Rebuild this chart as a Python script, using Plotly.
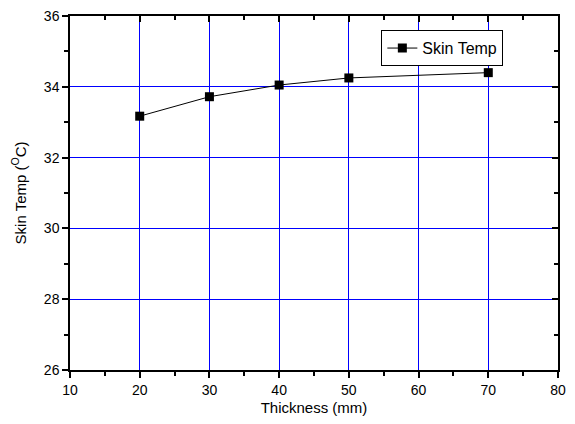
import plotly.graph_objects as go

thickness = [20, 30, 40, 50, 70]
skin_temp = [33.17, 33.72, 34.05, 34.25, 34.40]
series_name = "Skin Temp"

fig = go.Figure()
fig.add_trace(go.Scatter(
    x=thickness, y=skin_temp, name=series_name, mode="lines+markers",
    line=dict(color="black", width=1),
    marker=dict(symbol="square", size=9, color="black"),
))
# invisible trace for mirrored axes
fig.add_trace(go.Scatter(x=[10, 80], y=[26, 36], xaxis="x2", yaxis="y2",
                         mode="markers", marker=dict(opacity=0), showlegend=False,
                         hoverinfo="skip"))

fam = "Liberation Sans, Arial, sans-serif"
grid = "#0000ff"
fig.update_layout(
    template="none",
    width=575, height=424,
    margin=dict(l=70, r=17, t=16, b=54),
    paper_bgcolor="white", plot_bgcolor="white",
    font=dict(family=fam, size=14, color="black"),
    showlegend=True,
    hovermode=False,
    legend=dict(x=0.638, y=0.96, xanchor="left", yanchor="top",
                bordercolor="black", borderwidth=1, bgcolor="white",
                font=dict(family=fam, size=16),
                itemwidth=30, tracegroupgap=0),
    xaxis=dict(range=[10, 80], dtick=10, tick0=10, showgrid=True, gridcolor=grid,
               gridwidth=1, showline=True, linecolor="black", linewidth=1.5,
               ticks="outside", ticklen=6, tickwidth=1.5, tickcolor="black",
               tickfont=dict(size=14),
               minor=dict(dtick=5, ticks="outside", ticklen=4, tickwidth=1.5, tickcolor="black", showgrid=False),
               title=dict(text="Thickness (mm)", font=dict(size=15), standoff=6),
               zeroline=False, automargin=False),
    yaxis=dict(range=[26, 36], dtick=2, tick0=26, showgrid=True, gridcolor=grid,
               gridwidth=1, showline=True, linecolor="black", linewidth=1.5,
               ticks="outside", ticklen=6, tickwidth=1.5, tickcolor="black",
               tickfont=dict(size=14),
               minor=dict(dtick=1, ticks="outside", ticklen=4, tickwidth=1.5, tickcolor="black", showgrid=False),
               title=dict(text="Skin Temp (<sup>O</sup>C)", font=dict(size=15), standoff=14),
               zeroline=False, automargin=False),
    xaxis2=dict(range=[10, 80], dtick=10, tick0=10, overlaying="x", side="top",
                showgrid=False, showline=True, linecolor="black", linewidth=1.5,
                ticks="inside", ticklen=6, tickwidth=1.5, tickcolor="black",
                minor=dict(dtick=5, ticks="inside", ticklen=4, tickwidth=1.5, tickcolor="black", showgrid=False),
                showticklabels=False, zeroline=False),
    yaxis2=dict(range=[26, 36], dtick=2, tick0=26, overlaying="y", side="right",
                showgrid=False, showline=True, linecolor="black", linewidth=1.5,
                ticks="inside", ticklen=6, tickwidth=1.5, tickcolor="black",
                minor=dict(dtick=1, ticks="inside", ticklen=4, tickwidth=1.5, tickcolor="black", showgrid=False),
                showticklabels=False, zeroline=False),
)
fig.write_html("out.html", config={"displayModeBar": False},
               post_script="document.body.style.margin='0';document.body.style.overflow='hidden';")
